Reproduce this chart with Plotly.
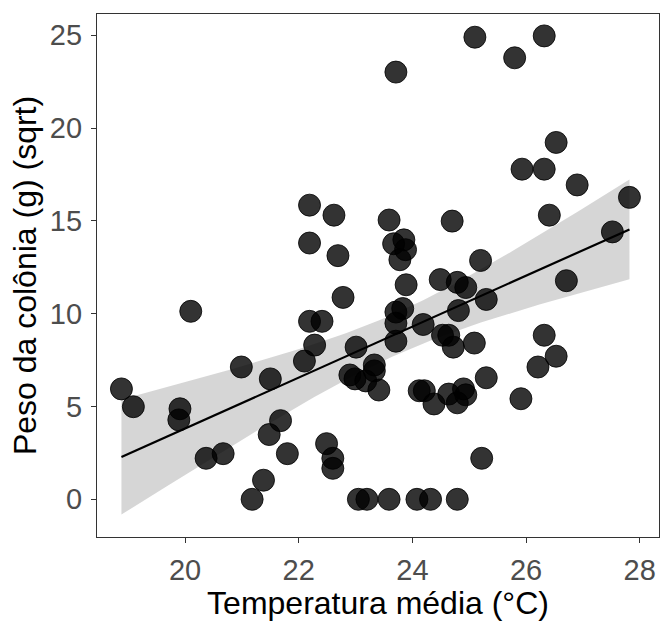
import numpy as np
import plotly.graph_objects as go

temperatura = [18.88, 19.09, 19.91, 19.89, 20.10, 20.37, 20.67, 20.99, 21.18, 21.38,
               21.50, 21.48, 21.68, 21.80, 22.10, 22.19, 22.19, 22.19, 22.41, 22.28,
               22.49, 22.60, 22.60, 22.62, 22.69, 22.78, 22.90, 23.01, 22.99, 23.05,
               23.20, 23.18, 23.33, 23.33, 23.41, 23.59, 23.59, 23.71, 23.67, 23.85,
               23.78, 23.88, 23.89, 23.71, 23.83, 23.71, 23.71, 24.12, 24.21, 24.08,
               24.32, 24.19, 24.38, 24.49, 24.53, 24.64, 24.72, 24.70, 24.64, 24.79,
               24.79, 24.79, 24.94, 24.81, 24.90, 24.94, 25.09, 25.10, 25.20, 25.30,
               25.30, 25.22, 25.80, 25.93, 25.91, 26.21, 26.32, 26.32, 26.32, 26.41,
               26.53, 26.53, 26.71, 26.90, 27.52, 27.82]
peso = [5.95, 4.99, 4.88, 4.28, 10.13, 2.21, 2.46, 7.13, 0.0, 1.03,
        6.49, 3.49, 4.24, 2.46, 7.45, 15.85, 13.81, 9.59, 9.59, 8.31,
        3.00, 2.21, 1.67, 15.31, 13.13, 10.88, 6.70, 8.20, 6.49, 0.0,
        0.0, 6.38, 7.24, 6.92, 5.89, 0.0, 15.05, 23.02, 13.77, 13.98,
        12.91, 13.45, 11.56, 10.09, 10.28, 9.49, 8.52, 5.85, 5.85, 0.0,
        0.0, 9.42, 5.14, 11.84, 8.84, 8.84, 8.20, 14.99, 5.67, 5.20,
        0.0, 11.69, 11.41, 10.17, 5.95, 5.63, 8.42, 24.90, 12.87, 10.77,
        6.55, 2.21, 23.79, 17.79, 5.42, 7.13, 24.97, 17.79, 8.84, 15.31,
        19.23, 7.71, 11.78, 16.94, 14.41, 16.27]
x_ticks = [20, 22, 24, 26, 28]
y_ticks = [0, 5, 10, 15, 20, 25]

x = np.array(temperatura)
y = np.array(peso)
n = len(x)
b1, b0 = np.polyfit(x, y, 1)
xs = np.linspace(x.min(), x.max(), 80)
ys = b0 + b1 * xs
resid = y - (b0 + b1 * x)
s = np.sqrt(np.sum(resid ** 2) / (n - 2))
sxx = np.sum((x - x.mean()) ** 2)
tval = 1.989
se = s * np.sqrt(1 / n + (xs - x.mean()) ** 2 / sxx)
lo = ys - tval * se
hi = ys + tval * se

fig = go.Figure()
fig.add_trace(go.Scatter(x=np.concatenate([xs, xs[::-1]]), y=np.concatenate([hi, lo[::-1]]),
                         fill="toself", fillcolor="rgba(153,153,153,0.4)",
                         line=dict(width=0), mode="lines", hoverinfo="skip", showlegend=False))
fig.add_trace(go.Scatter(x=xs, y=ys, mode="lines", line=dict(color="black", width=2.2),
                         showlegend=False))
fig.add_trace(go.Scatter(x=temperatura, y=peso, mode="markers",
                         marker=dict(size=22, color="rgba(0,0,0,0.8)",
                                     line=dict(width=1, color="rgba(0,0,0,0.8)")),
                         showlegend=False))

axis_common = dict(showline=True, mirror=True, linecolor="#333333", linewidth=1.2,
                   ticks="outside", ticklen=5, tickwidth=1.2, tickcolor="#333333",
                   showgrid=False, zeroline=False,
                   tickfont=dict(family="Liberation Sans, Arial", size=29, color="#4d4d4d"))
fig.update_xaxes(range=[18.45, 28.34], tickvals=x_ticks, ticklabelstandoff=2,
                 title=dict(text="Temperatura média (°C)", standoff=4,
                            font=dict(family="Liberation Sans, Arial", size=32, color="black")),
                 **axis_common)
fig.update_yaxes(range=[-2.03, 26.15], tickvals=y_ticks, ticklabelstandoff=3,
                 title=dict(text="Peso da colônia (g) (sqrt)", standoff=3,
                            font=dict(family="Liberation Sans, Arial", size=32, color="black")),
                 **axis_common)
fig.update_layout(width=664, height=621, plot_bgcolor="white", paper_bgcolor="white",
                  margin=dict(l=97, r=5, t=14, b=84))
fig.write_html("out.html")
